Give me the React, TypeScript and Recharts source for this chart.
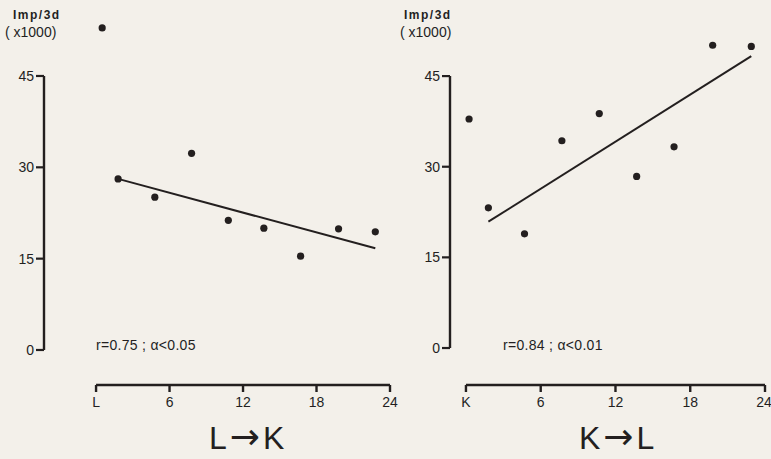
import {
  ReferenceLine,
  Scatter,
  ScatterChart,
  XAxis,
  YAxis,
} from 'recharts';

// hours after the switch; first point is the baseline (L or K)
const lkPoints = [
  { x: 0.5, y: 52.9 },
  { x: 1.8, y: 28.1 },
  { x: 4.8, y: 25.1 },
  { x: 7.8, y: 32.3 },
  { x: 10.8, y: 21.3 },
  { x: 13.7, y: 20.0 },
  { x: 16.7, y: 15.4 },
  { x: 19.8, y: 19.9 },
  { x: 22.8, y: 19.4 },
];
const lkFit = [
  { x: 1.8, y: 28.1 },
  { x: 22.8, y: 16.7 },
];

const klPoints = [
  { x: 0.25, y: 37.9 },
  { x: 1.8, y: 23.2 },
  { x: 4.7, y: 18.9 },
  { x: 7.7, y: 34.3 },
  { x: 10.7, y: 38.8 },
  { x: 13.7, y: 28.4 },
  { x: 16.7, y: 33.3 },
  { x: 19.8, y: 50.1 },
  { x: 22.9, y: 49.9 },
];
const klFit = [
  { x: 1.8, y: 20.9 },
  { x: 22.9, y: 48.3 },
];

const xTicks = [0, 6, 12, 18, 24];
const yTicks = [0, 15, 30, 45];

const INK = '#231f1f';
const BG = '#f3f0ea';
const FONT = '"Liberation Sans", Arial, sans-serif';

type PanelProps = {
  left: number;
  width: number;
  marginLeft: number;
  marginRight: number;
  xMin: number;
  yMin: number;
  yMax: number;
  startLabel: string;
  points: { x: number; y: number }[];
  fit: { x: number; y: number }[];
};

function Panel(p: PanelProps) {
  const tickStyle = { fontSize: 14, fill: INK, fontFamily: FONT };
  return (
    <div style={{ position: 'absolute', left: p.left, top: 0 }}>
      <ScatterChart
        width={p.width}
        height={459}
        margin={{ top: 9, right: p.marginRight, bottom: 44, left: p.marginLeft }}
      >
        <XAxis
          type="number"
          dataKey="x"
          domain={[p.xMin, 24]}
          allowDataOverflow
          ticks={xTicks}
          tickFormatter={(v: number) => (v === 0 ? p.startLabel : String(v))}
          axisLine={false}
          stroke={INK}
          tickLine={{ stroke: INK, strokeWidth: 2.4 }}
          tickSize={7}
          tickMargin={5}
          tick={tickStyle}
          height={30}
        />
        <YAxis
          type="number"
          dataKey="y"
          domain={[p.yMin, p.yMax]}
          allowDataOverflow
          ticks={yTicks}
          axisLine={false}
          stroke={INK}
          tickLine={{ stroke: INK, strokeWidth: 2.2 }}
          tickSize={8}
          tickMargin={2}
          tick={tickStyle}
          width={30}
        />
        <ReferenceLine
          segment={[
            { x: p.xMin, y: 0 },
            { x: p.xMin, y: 45 },
          ]}
          stroke={INK}
          strokeWidth={2.4}
        />
        <ReferenceLine
          segment={[
            { x: 0, y: p.yMin },
            { x: 24, y: p.yMin },
          ]}
          stroke={INK}
          strokeWidth={2.4}
        />
        <Scatter
          data={p.fit}
          line={{ stroke: INK, strokeWidth: 2 }}
          lineType="joint"
          shape={() => <g />}
          isAnimationActive={false}
        />
        <Scatter
          data={p.points}
          fill={INK}
          shape={(s: any) => <circle cx={s.cx} cy={s.cy} r={3.6} fill={INK} />}
          isAnimationActive={false}
        />
      </ScatterChart>
    </div>
  );
}

function Txt({ x, y, size, children, bold, spacing }: any) {
  return (
    <div
      style={{
        position: 'absolute',
        left: x,
        top: y,
        fontSize: size,
        lineHeight: 1,
        fontFamily: FONT,
        fontWeight: bold ? 700 : 400,
        letterSpacing: spacing ?? 0,
        color: INK,
        whiteSpace: 'nowrap',
      }}
    >
      {children}
    </div>
  );
}

function Arrow() {
  return (
    <span
      style={{
        display: 'inline-block',
        fontFamily: '"DejaVu Sans", sans-serif',
        fontSize: 36,
        lineHeight: '20px',
        height: 20,
        margin: '0 3px',
      }}
    >
      →
    </span>
  );
}

export default function App() {
  return (
    <div
      style={{
        position: 'absolute',
        left: 0,
        top: 0,
        width: 771,
        height: 459,
        background: BG,
        overflow: 'hidden',
      }}
    >
      <Panel
        left={0}
        width={400}
        marginLeft={14}
        marginRight={10}
        xMin={-4.25}
        yMin={-5.75}
        yMax={56}
        startLabel="L"
        points={lkPoints}
        fit={lkFit}
      />
      <Panel
        left={390}
        width={381}
        marginLeft={30}
        marginRight={6}
        xMin={-1.28}
        yMin={-6.12}
        yMax={56.1}
        startLabel="K"
        points={klPoints}
        fit={klFit}
      />

      <Txt x={13} y={9} size={12} bold spacing={1.5}>Imp/3d</Txt>
      <Txt x={5} y={25} size={14}>( x1000)</Txt>
      <Txt x={404} y={9} size={12} bold spacing={1.5}>Imp/3d</Txt>
      <Txt x={400} y={25} size={14}>( x1000)</Txt>

      <Txt x={96} y={338} size={14} spacing={0.3}>r=0.75 ; α&lt;0.05</Txt>
      <Txt x={503} y={338} size={14} spacing={0.3}>r=0.84 ; α&lt;0.01</Txt>

      <Txt x={209} y={422} size={32}>L<Arrow />K</Txt>
      <Txt x={579} y={422} size={32}>K<Arrow />L</Txt>
    </div>
  );
}
